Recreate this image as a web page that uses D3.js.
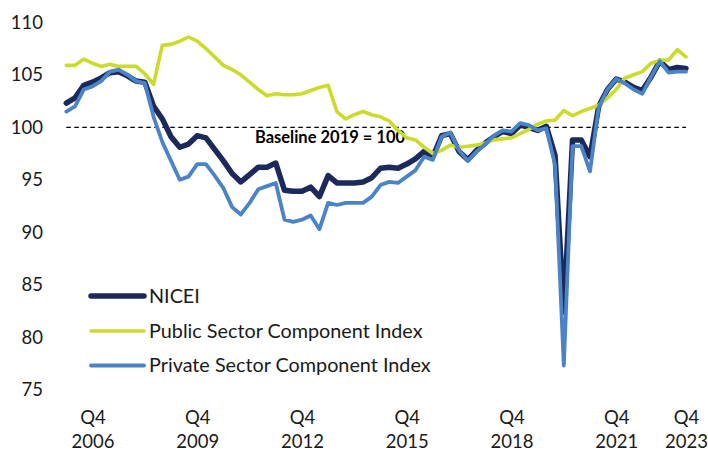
<!DOCTYPE html>
<html>
<head>
<meta charset="utf-8">
<script src="https://cdn.jsdelivr.net/npm/d3@7"></script>
<style>
  html, body { margin: 0; padding: 0; background: #fff; }
  svg { display: block; font-family: Lato, "Open Sans", sans-serif; }
</style>
</head>
<body>
<svg id="chart" width="708" height="451"></svg>
<script>
// ---- data ----
const years = d3.range(2006, 2024);
const quarters = years.flatMap(y => ["Q1", "Q2", "Q3", "Q4"].map(q => q + " " + y));

const nicei = [102.3, 102.8, 104.0, 104.3, 104.7, 105.2, 105.3, 104.9, 104.4, 104.3,
  102.0, 100.8, 99.1, 98.1, 98.4, 99.2, 99.0, 97.9, 96.8, 95.6,
  94.8, 95.5, 96.2, 96.2, 96.6, 94.0, 93.9, 93.9, 94.3, 93.4,
  95.4, 94.7, 94.7, 94.7, 94.8, 95.2, 96.1, 96.2, 96.1, 96.5,
  97.0, 97.7, 97.2, 99.2, 99.4, 97.7, 96.9, 97.8, 98.5, 99.1,
  99.6, 99.4, 100.2, 100.0, 99.7, 100.1, 97.3, 82.4, 98.8, 98.8,
  97.2, 102.0, 103.6, 104.6, 104.3, 103.8, 103.5, 104.8, 106.3, 105.5,
  105.7, 105.6];

const publicIdx = [105.9, 105.9, 106.5, 106.1, 105.8, 106.0, 105.8, 105.8, 105.8, 105.1,
  104.1, 107.8, 107.9, 108.2, 108.6, 108.2, 107.5, 106.7, 105.9, 105.5,
  105.0, 104.3, 103.6, 103.0, 103.2, 103.1, 103.1, 103.2, 103.5, 103.8,
  104.0, 101.5, 100.8, 101.2, 101.5, 101.2, 101.0, 100.6, 99.7, 99.0,
  98.8, 98.1, 97.5, 97.8, 98.3, 98.1, 98.2, 98.3, 98.5, 98.8,
  98.9, 99.0, 99.4, 99.8, 100.3, 100.6, 100.7, 101.6, 101.1, 101.5,
  101.8, 102.1, 102.8, 103.6, 104.7, 105.0, 105.3, 106.1, 106.4, 106.4,
  107.4, 106.7];

const privateIdx = [101.5, 102.0, 103.6, 103.9, 104.4, 105.3, 105.5, 105.0, 104.4, 104.2,
  101.0, 98.6, 96.8, 95.0, 95.3, 96.5, 96.5, 95.4, 94.2, 92.4,
  91.7, 92.8, 94.1, 94.4, 94.7, 91.2, 91.0, 91.2, 91.6, 90.3,
  92.8, 92.6, 92.8, 92.8, 92.8, 93.4, 94.5, 94.8, 94.7, 95.3,
  95.9, 97.2, 96.9, 99.1, 99.5, 97.8, 96.8, 97.7, 98.4, 99.2,
  99.7, 99.6, 100.4, 100.2, 99.7, 99.9, 96.4, 77.3, 98.2, 98.2,
  95.8, 101.9, 103.6, 104.6, 104.2, 103.6, 103.2, 104.8, 106.3, 105.2,
  105.3, 105.3];

const xTickLabels = ["Q4 2006", "Q4 2009", "Q4 2012", "Q4 2015", "Q4 2018", "Q4 2021", "Q4 2023"];
const yTicks = [75, 80, 85, 90, 95, 100, 105, 110];
const seriesNames = ["NICEI", "Public Sector Component Index", "Private Sector Component Index"];
const baselineValue = 100;
const baselineLabel = "Baseline 2019 = 100";

// ---- layout ----
const svg = d3.select("#chart");
const x = d3.scalePoint().domain(quarters).range([66.3, 686]);
const y = d3.scaleLinear().domain([75, 110]).range([389.8, 22.3]);

const series = [
  { name: seriesNames[0], values: nicei, color: "#1b2a5b", width: 5.5 },
  { name: seriesNames[1], values: publicIdx, color: "#cbdb2a", width: 3.6 },
  { name: seriesNames[2], values: privateIdx, color: "#4a84c6", width: 3.8 }
];

// y axis labels
const yAxis = d3.axisLeft(y).tickValues(yTicks).tickSize(0).tickPadding(0);
const gy = svg.append("g").attr("transform", "translate(43,0)").call(yAxis);
gy.select(".domain").remove();
gy.selectAll("text").attr("font-size", 18.5).attr("fill", "#1a1a1a")
  .attr("font-family", "Lato, sans-serif");

// x axis labels (two lines)
const xAxis = d3.axisBottom(x).tickValues(xTickLabels).tickSize(0).tickFormat(() => "");
const gx = svg.append("g").attr("transform", "translate(0,400)").call(xAxis);
gx.select(".domain").remove();
gx.selectAll(".tick text").remove();
gx.selectAll(".tick").each(function(d) {
  const parts = d.split(" ");
  const t = d3.select(this).append("text")
    .attr("text-anchor", "middle").attr("font-size", 18.5).attr("fill", "#1a1a1a")
    .attr("font-family", "Lato, sans-serif");
  t.append("tspan").attr("x", 0).attr("y", 24).text(parts[0]);
  t.append("tspan").attr("x", 0).attr("y", 47.5).text(parts[1]);
});

// baseline
svg.append("line")
  .attr("x1", x(quarters[0])).attr("x2", x(quarters[quarters.length - 1]))
  .attr("y1", y(baselineValue)).attr("y2", y(baselineValue))
  .attr("stroke", "#000").attr("stroke-width", 1.3).attr("stroke-dasharray", "4.5,3.5");

svg.append("text")
  .attr("x", 330).attr("y", y(baselineValue) + 15.5)
  .attr("text-anchor", "middle").attr("font-weight", "bold").attr("font-size", 16.5)
  .attr("fill", "#000").text(baselineLabel);

// lines
const line = d3.line().x((d, i) => x(quarters[i])).y(d => y(d)).curve(d3.curveLinear);
svg.append("g").selectAll("path").data(series).join("path")
  .attr("d", d => line(d.values))
  .attr("fill", "none")
  .attr("stroke", d => d.color)
  .attr("stroke-width", d => d.width)
  .attr("stroke-linejoin", "round")
  .attr("stroke-linecap", "round");

// legend
const lg = svg.append("g");
const legendY = [296, 331, 365.5];
series.forEach((s, i) => {
  lg.append("line").attr("x1", 91).attr("x2", 144).attr("y1", legendY[i]).attr("y2", legendY[i])
    .attr("stroke", s.color).attr("stroke-width", s.width).attr("stroke-linecap", "round");
  lg.append("text").attr("x", 149).attr("y", legendY[i]).attr("dy", "0.35em")
    .attr("font-size", 19.8).attr("fill", "#1a1a1a").text(s.name);
});
</script>
</body>
</html>
